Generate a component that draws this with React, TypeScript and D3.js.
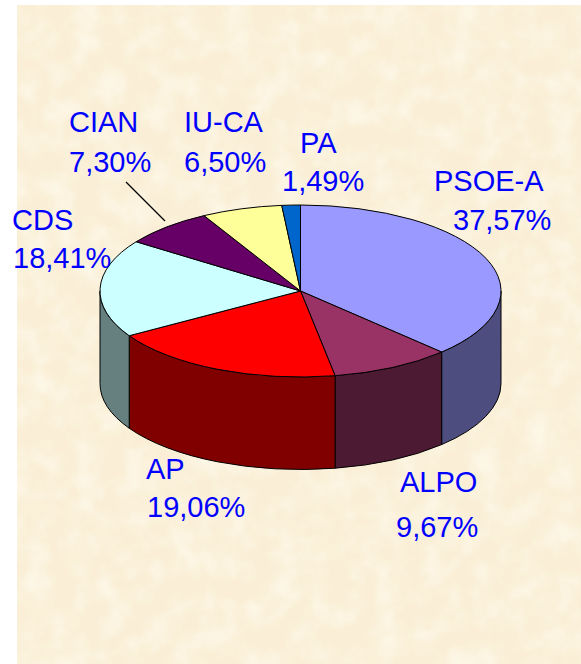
import React from "react";
import * as d3 from "d3";

const parties = ["PSOE-A", "ALPO", "AP", "CDS", "CIAN", "IU-CA", "PA"];
const shares = [37.57, 9.67, 19.06, 18.41, 7.3, 6.5, 1.49];
const shareLabels = ["37,57%", "9,67%", "19,06%", "18,41%", "7,30%", "6,50%", "1,49%"];
const topColors = ["#9999FF", "#993366", "#FF0000", "#CCFFFF", "#660066", "#FFFF99", "#0066CC"];
const sideColors = ["#4D4D80", "#4D1A33", "#800000", "#668080", "#330033", "#808050", "#003366"];
const nameAnchors: [number, number][] = [[434, 191], [400, 492], [146, 479], [12, 230], [69, 132], [184, 132], [300, 153]];
const valueAnchors: [number, number][] = [[453, 230], [396, 537], [147, 517], [13, 268], [69, 172], [184, 172], [282, 191]];

const W = 581, H = 664;
const cx = 300.5, cy = 291, rx = 200.5, ry = 86, depth = 92.5;
const x = d3.scaleLinear().domain([-1, 1]).range([cx - rx, cx + rx]);
const y = d3.scaleLinear().domain([-1, 1]).range([cy - ry, cy + ry]);

const arcs = d3.pie<number>().sort(null)(shares);
const px = (a: number) => x(Math.sin(a));
const py = (a: number, dz = 0) => y(-Math.cos(a)) + dz;

function topPath(a0: number, a1: number) {
  const large = a1 - a0 > Math.PI ? 1 : 0;
  return `M${cx},${cy}L${px(a0)},${py(a0)}A${rx},${ry} 0 ${large} 1 ${px(a1)},${py(a1)}Z`;
}
function wallPath(a0: number, a1: number) {
  const s = Math.max(a0, Math.PI / 2), e = Math.min(a1, 1.5 * Math.PI);
  if (e <= s) return null;
  return `M${px(s)},${py(s)}A${rx},${ry} 0 0 1 ${px(e)},${py(e)}L${px(e)},${py(e, depth)}A${rx},${ry} 0 0 0 ${px(s)},${py(s, depth)}Z`;
}

export default function App() {
  const font = "'Liberation Sans', Arial, sans-serif";
  return (
    <svg width={W} height={H} style={{ position: "absolute", left: 0, top: 0, display: "block", background: "#fff" }}>
      <defs>
        <filter id="paper" x="0" y="0" width="100%" height="100%">
          <feTurbulence type="fractalNoise" baseFrequency="0.04" numOctaves={3} seed={4} />
          <feColorMatrix type="matrix" values="0 0 0 0 1  0 0 0 0 0.97  0 0 0 0 0.88  2.4 0 0 0 -0.95" />
        </filter>
      </defs>
      <rect x={17} y={5} width={W - 17} height={H - 5} fill="#FAEFD6" />
      <rect x={17} y={5} width={W - 17} height={H - 5} filter="url(#paper)" opacity={0.55} />
      {arcs.map((d, i) => {
        const p = wallPath(d.startAngle, d.endAngle);
        return p ? <path key={i} d={p} fill={sideColors[i]} stroke="#000" strokeWidth={1} /> : null;
      })}
      {arcs.map((d, i) => (
        <path key={i} d={topPath(d.startAngle, d.endAngle)} fill={topColors[i]} stroke="#000" strokeWidth={1} />
      ))}
      <line x1={126} y1={182} x2={165} y2={221} stroke="#000" strokeWidth={1.3} />
      <g fontFamily={font} fontSize={29} fill="#0000FF">
        {parties.map((p, i) => (
          <text key={p} x={nameAnchors[i][0]} y={nameAnchors[i][1]}>{p}</text>
        ))}
        {shareLabels.map((s, i) => (
          <text key={s} x={valueAnchors[i][0]} y={valueAnchors[i][1]}>{s}</text>
        ))}
      </g>
    </svg>
  );
}
